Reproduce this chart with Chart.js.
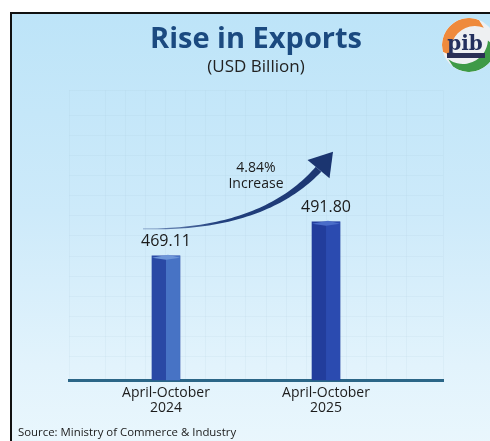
<!DOCTYPE html>
<html>
<head>
<meta charset="utf-8">
<script src="https://cdn.jsdelivr.net/npm/chart.js@4"></script>
<style>
  html, body { margin: 0; padding: 0; background: #fff; width: 490px; height: 441px; overflow: hidden; }
  #panel {
    position: absolute; left: 10px; top: 12px; width: 490px; height: 440px;
    border-left: 2px solid #111; border-top: 2px solid #111;
    background: linear-gradient(#bde4f8 0%, #cdeafa 45%, #e2f3fc 80%, #eaf7fd 100%);
  }
  #wrap { position: absolute; left: 0; top: 0; width: 490px; height: 441px; }
</style>
</head>
<body>
<div id="panel"></div>
<div id="wrap"><canvas id="c"></canvas></div>
<script>
// Export values for the two periods (USD billion)
const categories = [['April-October', '2024'], ['April-October', '2025']];
const exportValues = [469.11, 491.80];
const valueLabels = ['469.11', '491.80'];
const growthLabel = ['4.84%', 'Increase'];
const sourceNote = 'Source: Ministry of Commerce & Industry';

const FONT = '"Open Sans", sans-serif';
const frontColors = ['#2a49a5', '#223d9c'];
const sideColors = ['#4773c5', '#2b4bb0'];
const capColors = ['#6d95d8', '#4a6dc9'];

// Bars get a shaded right face and a top cap, then value labels
const barDecor = {
  id: 'barDecor',
  afterDatasetsDraw(chart) {
    const ctx = chart.ctx;
    const meta = chart.getDatasetMeta(0);
    const bottom = chart.chartArea.bottom;
    meta.data.forEach((el, i) => {
      const w = el.width, l = el.x - w / 2, r = el.x + w / 2;
      const base = Math.min(el.base, bottom);
      ctx.save();
      ctx.fillStyle = sideColors[i];
      ctx.fillRect(el.x, el.y, r - el.x, base - el.y);
      ctx.fillStyle = capColors[i];
      ctx.beginPath();
      ctx.moveTo(l, el.y + 2);
      ctx.lineTo(el.x + 2, el.y - 1);
      ctx.lineTo(r, el.y + 2);
      ctx.lineTo(el.x, el.y + 4);
      ctx.closePath();
      ctx.fill();
      ctx.fillStyle = '#1a1a1a';
      ctx.font = '500 16px ' + FONT;
      ctx.textAlign = 'center';
      ctx.textBaseline = 'middle';
      ctx.fillText(valueLabels[i], el.x, el.y - 14);
      ctx.restore();
    });
  }
};

// Growth arrow between the two bars
const growthArrow = {
  id: 'growthArrow',
  afterDatasetsDraw(chart) {
    const ctx = chart.ctx;
    const [b0, b1] = chart.getDatasetMeta(0).data;
    const P0 = { x: b0.x - 23, y: b0.y - 27 };
    const C = { x: b0.x + 96, y: b0.y - 25 };
    const T = { x: b1.x + 7, y: b1.y - 70 };
    const P2 = { x: T.x - 14.5, y: T.y + 17.5 };
    const q = (t, a, c, b) => (1 - t) * (1 - t) * a + 2 * (1 - t) * t * c + t * t * b;
    const N = 50, left = [], right = [];
    for (let i = 0; i <= N; i++) {
      const t = i / N;
      const x = q(t, P0.x, C.x, P2.x), y = q(t, P0.y, C.y, P2.y);
      const dx = 2 * (1 - t) * (C.x - P0.x) + 2 * t * (P2.x - C.x);
      const dy = 2 * (1 - t) * (C.y - P0.y) + 2 * t * (P2.y - C.y);
      const len = Math.hypot(dx, dy);
      const nx = -dy / len, ny = dx / len;
      const hw = 0.4 + 3.3 * Math.pow(t, 1.3);
      left.push([x + nx * hw, y + ny * hw]);
      right.push([x - nx * hw, y - ny * hw]);
    }
    const g = ctx.createLinearGradient(P0.x, P0.y, T.x, T.y);
    g.addColorStop(0, 'rgba(45,75,140,0.55)');
    g.addColorStop(0.35, '#22407e');
    g.addColorStop(1, '#1b3570');
    ctx.save();
    ctx.fillStyle = g;
    ctx.beginPath();
    ctx.moveTo(left[0][0], left[0][1]);
    left.forEach(p => ctx.lineTo(p[0], p[1]));
    for (let i = right.length - 1; i >= 0; i--) ctx.lineTo(right[i][0], right[i][1]);
    ctx.closePath();
    ctx.fill();
    // arrow head
    const dl = Math.hypot(T.x - P2.x, T.y - P2.y);
    const px = -(T.y - P2.y) / dl, py = (T.x - P2.x) / dl;
    ctx.fillStyle = '#1b3570';
    ctx.beginPath();
    ctx.moveTo(T.x, T.y);
    ctx.lineTo(P2.x + px * 14.3, P2.y + py * 14.3);
    ctx.lineTo(P2.x - px * 14.3, P2.y - py * 14.3);
    ctx.closePath();
    ctx.fill();
    // growth text
    ctx.fillStyle = '#1a1a1a';
    ctx.font = '14px ' + FONT;
    ctx.textAlign = 'center';
    ctx.textBaseline = 'middle';
    const lx = (b0.x + b1.x) / 2 + 10;
    ctx.fillText(growthLabel[0], lx, b1.y - 54);
    ctx.fillText(growthLabel[1], lx, b1.y - 38);
    ctx.restore();
  }
};

// Source line and PIB badge
const extras = {
  id: 'extras',
  afterDraw(chart) {
    const ctx = chart.ctx;
    ctx.save();
    ctx.fillStyle = '#1a1a1a';
    ctx.font = '11.4px ' + FONT;
    ctx.textAlign = 'left';
    ctx.textBaseline = 'middle';
    ctx.fillText(sourceNote, 18, chart.height - 8);

    const cx = 469, cy = 45, r = 27;
    ctx.beginPath();
    ctx.arc(cx, cy, r, 0, Math.PI * 2);
    ctx.clip();
    ctx.fillStyle = '#eef0f2';
    ctx.fillRect(cx - r, cy - r, 2 * r, 2 * r);
    ctx.fillStyle = '#ef8a3c';
    ctx.beginPath();
    ctx.arc(cx, cy, r, Math.PI * 0.92, Math.PI * 1.62);
    ctx.arc(cx + 6, cy + 5, r - 3, Math.PI * 1.62, Math.PI * 0.92, true);
    ctx.closePath();
    ctx.fill();
    ctx.fillStyle = '#3e9a47';
    ctx.beginPath();
    ctx.arc(cx, cy, r, Math.PI * 0.02, Math.PI * 0.7);
    ctx.arc(cx - 6, cy - 6, r - 2, Math.PI * 0.7, Math.PI * 0.02, true);
    ctx.closePath();
    ctx.fill();
    ctx.fillStyle = '#24305e';
    ctx.font = 'bold 20px "DejaVu Serif", serif';
    ctx.textAlign = 'center';
    ctx.textBaseline = 'alphabetic';
    ctx.fillText('pib', cx - 4, cy + 5);
    ctx.fillStyle = '#2a2f55';
    ctx.fillRect(cx - 22, cy + 8, 38, 5);
    ctx.restore();
  }
};

const faint = 'rgba(140,175,205,0.09)';

new Chart(document.getElementById('c'), {
  type: 'bar',
  data: {
    datasets: [{
      data: exportValues.map((v, i) => ({ x: i, y: v })),
      backgroundColor: frontColors,
      borderWidth: 0,
      barThickness: 28
    }]
  },
  options: {
    responsive: true,
    maintainAspectRatio: false,
    animation: false,
    layout: { padding: { left: 69, right: 47, top: 22, bottom: 20 } },
    plugins: {
      legend: { display: false },
      tooltip: { enabled: false },
      title: {
        display: true,
        text: 'Rise in Exports',
        color: '#1b4a80',
        font: { family: FONT, size: 29, weight: 'bold' },
        padding: { top: 0, bottom: 0 }
      },
      subtitle: {
        display: true,
        text: '(USD Billion)',
        color: '#222',
        font: { family: FONT, size: 17 },
        padding: { top: 0, bottom: 13 }
      }
    },
    scales: {
      x: {
        type: 'linear',
        offset: false,
        min: -0.606,
        max: 1.731,
        grid: { color: faint, drawTicks: false, offset: false },
        border: { display: true, color: '#2b6687', width: 3 },
        ticks: {
          stepSize: 0.125,
          autoSkip: false,
          maxRotation: 0,
          padding: 5,
          color: '#1c1c1c',
          font: { family: FONT, size: 14, weight: '500', lineHeight: 1.1 },
          callback: (v) => (Number.isInteger(v) && categories[v]) ? categories[v] : ''
        }
      },
      y: {
        min: 386.4,
        max: 579.3,
        ticks: { display: false, stepSize: 13.4 },
        grid: { color: faint, drawTicks: false },
        border: { display: false }
      }
    }
  },
  plugins: [barDecor, growthArrow, extras]
});
</script>
</body>
</html>
